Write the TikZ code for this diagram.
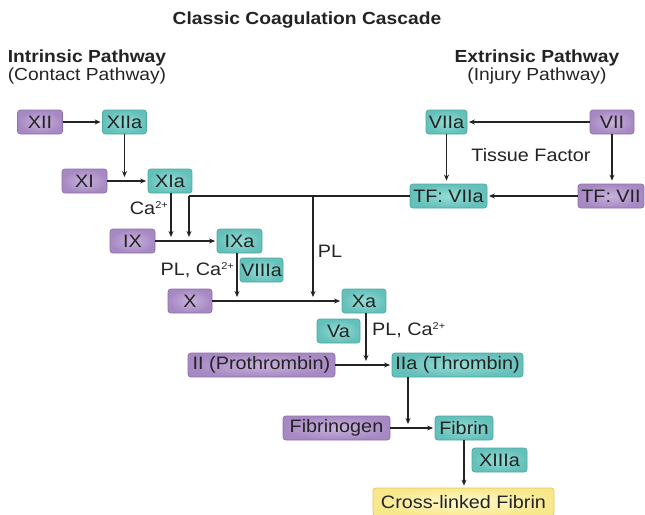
\documentclass[tikz,border=0pt]{standalone}
\usepackage{fontspec}
\setmainfont{Liberation Sans}[FakeStretch=1.1]
\usetikzlibrary{arrows.meta}
\definecolor{pM}{RGB}{166,136,194}
\definecolor{pL}{RGB}{200,178,220}
\definecolor{pD}{RGB}{142,112,172}
\definecolor{tM}{RGB}{100,192,186}
\definecolor{tL}{RGB}{150,220,214}
\definecolor{tD}{RGB}{78,168,162}
\definecolor{yM}{RGB}{248,232,140}
\definecolor{yL}{RGB}{255,249,205}
\definecolor{yD}{RGB}{236,196,96}
\definecolor{txt}{RGB}{35,35,35}
\newcommand\supchg[1]{\raisebox{5.5pt}{\fontsize{10}{10}\selectfont #1}}
\begin{document}
\begin{tikzpicture}[x=1pt,y=-1pt,
  font=\fontsize{18}{18.5}\selectfont,
  box/.style={rounded corners=3pt, line width=0.8pt, minimum height=24pt, inner sep=0pt, text=txt},
  pbox/.style={box, draw=pD, inner color=pL, outer color=pM},
  tbox/.style={box, draw=tD, inner color=tL, outer color=tM},
  ybox/.style={box, draw=yD, inner color=yL, outer color=yM},
  arr/.style={draw=txt, line width=1.1pt, -{Stealth[length=6pt,width=5pt]}, shorten >=1.5pt},
  varr/.style={arr, shorten >=4pt},
  ln/.style={draw=txt, line width=1.1pt},
  lab/.style={text=txt, inner sep=0pt},
  head/.style={lab, align=center, font=\fontsize{17.5}{18.5}\selectfont}]
\useasboundingbox (0,0) rectangle (645,514);

% headings
\node[lab, font=\bfseries\fontsize{17.5}{19}\selectfont] (title) at (307,20) {Classic Coagulation Cascade};
\node[head] (intr) at (87,67) {\textbf{Intrinsic Pathway}\\(Contact Pathway)};
\node[head] (extr) at (537,67) {\textbf{Extrinsic Pathway}\\(Injury Pathway)};

% intrinsic
\node[pbox, minimum width=45pt] (XII) at (40,122) {XII};
\node[tbox, minimum width=44pt] (XIIa) at (124.5,122) {XIIa};
\node[pbox, minimum width=45pt] (XI) at (84.5,181) {XI};
\node[tbox, minimum width=44pt] (XIa) at (170,181) {XIa};
\node[pbox, minimum width=45pt] (IX) at (132.5,241) {IX};
\node[tbox, minimum width=45pt] (IXa) at (239.5,241) {IXa};
\node[tbox, minimum width=43pt] (VIIIa) at (261.5,270) {VIIIa};
\node[pbox, minimum width=44pt] (X) at (190,301) {X};
\node[tbox, minimum width=44pt] (Xa) at (364,301) {Xa};
\node[tbox, minimum width=43pt] (Va) at (338.5,331) {Va};
\node[pbox, minimum width=147pt] (II) at (261.5,365) {II (Prothrombin)};
\node[tbox, minimum width=131pt] (IIa) at (457.5,365) {IIa (Thrombin)};
\node[pbox, minimum width=107pt] (Fbg) at (336.5,428) {Fibrinogen};
\node[tbox, minimum width=58pt] (Fib) at (464,428) {Fibrin};
\node[tbox, minimum width=55pt] (XIIIa) at (499.5,460) {XIIIa};
\node[ybox, minimum width=181pt, minimum height=28pt] (CLF) at (463.5,502) {Cross-linked Fibrin};

% extrinsic
\node[tbox, minimum width=41pt] (VIIa) at (446.5,122) {VIIa};
\node[pbox, minimum width=44pt] (VII) at (612,122) {VII};
\node[tbox, minimum width=77pt] (TFVIIa) at (448.5,196) {TF: VIIa};
\node[pbox, minimum width=66pt] (TFVII) at (611,196) {TF: VII};

% labels
\node[lab, anchor=east] (ca1) at (168,208) {Ca\supchg{2+}};
\node[lab] (pl1) at (330,251) {PL};
\node[lab, anchor=east] (plca1) at (234,270) {PL, Ca\supchg{2+}};
\node[lab, anchor=west] (plca2) at (372,330) {PL, Ca\supchg{2+}};
\node[lab] (tf) at (531,155) {Tissue Factor};

% junctions
\coordinate (j1) at (189,196);
\coordinate (j2) at (313,196);
\coordinate (a1) at (237,253);
\coordinate (a2) at (366,313);
\coordinate (a3) at (408,377);

% connectors
\draw[arr] (XII) -- (XIIa);
\draw[varr] (XIIa.south) -- (XIIa.south |- XI.east);
\draw[arr] (XI) -- (XIa);
\draw[varr] ([xshift=1pt]XIa.south) -- ([xshift=1pt]XIa.south |- IX.east);
\draw[ln] (TFVIIa.west) -- (j1);
\draw[varr] (j1) -- (j1 |- IX.east);
\draw[varr] (j2) -- (j2 |- X.east);
\draw[arr] (IX) -- (IXa);
\draw[varr] (a1) -- (a1 |- X.east);
\draw[arr] (X) -- (Xa);
\draw[varr] (a2) -- (a2 |- II.east);
\draw[arr] (II) -- (IIa);
\draw[varr] (a3) -- (a3 |- Fbg.east);
\draw[arr] (Fbg) -- (Fib);
\draw[arr, shorten >=2pt] (Fib.south) -- (Fib.south |- CLF.north);
\draw[arr] (VII) -- (VIIa);
\draw[arr, shorten >=3pt] (VIIa.south) -- (VIIa.south |- TFVIIa.north);
\draw[arr, shorten >=3pt] (VII.south) -- (VII.south |- TFVII.north);
\draw[arr] (TFVII) -- (TFVIIa);
\end{tikzpicture}
\end{document}
